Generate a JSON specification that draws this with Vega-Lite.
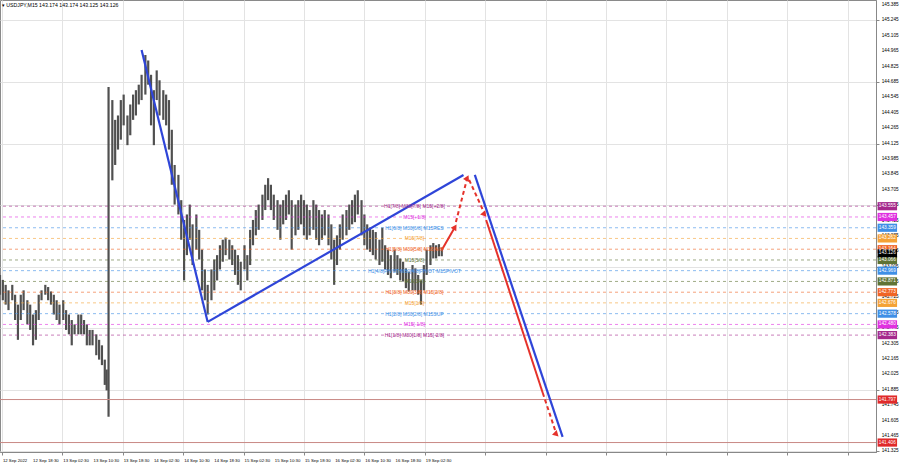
{
  "$schema": "https://vega.github.io/schema/vega-lite/v6.json",
  "width": 876,
  "height": 452,
  "autosize": {"type": "none"},
  "padding": {"left": 0, "top": 0, "right": 24, "bottom": 16},
  "background": "#ffffff",
  "title": {"text": "▾ USDJPY,M15  143.174 143.174 143.125 143.126", "anchor": "start", "orient": "top", "offset": -8, "dx": 3, "fontSize": 5.2, "fontWeight": "normal", "color": "#000000", "font": "Liberation Sans"},
  "config": {
    "view": {"stroke": "#8a8a8a", "strokeWidth": 1},
    "font": "Liberation Sans",
    "axis": {"labels": false, "gridColor": "#e3e3e3", "tickColor": "#888888", "domainColor": "#888888", "tickSize": 3, "title": null}
  },
  "datasets": {
    "xlab": [
      {"b": 0, "label": "12 Sep 2022"}, {"b": 32, "label": "12 Sep 18:30"}, {"b": 64, "label": "13 Sep 02:30"},
      {"b": 96, "label": "13 Sep 10:30"}, {"b": 128, "label": "13 Sep 18:30"}, {"b": 160, "label": "14 Sep 02:30"},
      {"b": 192, "label": "14 Sep 10:30"}, {"b": 224, "label": "14 Sep 18:30"}, {"b": 256, "label": "15 Sep 02:30"},
      {"b": 288, "label": "15 Sep 10:30"}, {"b": 320, "label": "15 Sep 18:30"}, {"b": 352, "label": "16 Sep 02:30"},
      {"b": 384, "label": "16 Sep 10:30"}, {"b": 416, "label": "16 Sep 18:30"}, {"b": 448, "label": "19 Sep 02:30"}
    ],
    "ylab": [
      {"p": 145.385}, {"p": 145.245}, {"p": 145.105}, {"p": 144.965}, {"p": 144.825}, {"p": 144.685},
      {"p": 144.545}, {"p": 144.405}, {"p": 144.265}, {"p": 144.125}, {"p": 143.985}, {"p": 143.845},
      {"p": 143.705}, {"p": 143.565}, {"p": 143.425}, {"p": 143.285}, {"p": 143.145}, {"p": 143.005},
      {"p": 142.865}, {"p": 142.725}, {"p": 142.585}, {"p": 142.445}, {"p": 142.305}, {"p": 142.165},
      {"p": 142.025}, {"p": 141.885}, {"p": 141.745}, {"p": 141.605}, {"p": 141.465}, {"p": 141.325}
    ],
    "bars": [
      {"b": -2, "hi": 142.93, "lo": 142.75}, {"b": 1, "hi": 142.885, "lo": 142.70}, {"b": 4, "hi": 142.84, "lo": 142.66},
      {"b": 7, "hi": 142.79, "lo": 142.61}, {"b": 11, "hi": 142.84, "lo": 142.70}, {"b": 14, "hi": 142.75, "lo": 142.52},
      {"b": 17, "hi": 142.66, "lo": 142.34}, {"b": 20, "hi": 142.75, "lo": 142.52}, {"b": 23, "hi": 142.79, "lo": 142.61},
      {"b": 27, "hi": 142.70, "lo": 142.48}, {"b": 30, "hi": 142.66, "lo": 142.43}, {"b": 33, "hi": 142.57, "lo": 142.29},
      {"b": 36, "hi": 142.61, "lo": 142.34}, {"b": 39, "hi": 142.75, "lo": 142.52}, {"b": 42, "hi": 142.79, "lo": 142.70},
      {"b": 46, "hi": 142.84, "lo": 142.75}, {"b": 49, "hi": 142.82, "lo": 142.70}, {"b": 52, "hi": 142.78, "lo": 142.66},
      {"b": 55, "hi": 142.75, "lo": 142.57}, {"b": 58, "hi": 142.70, "lo": 142.52}, {"b": 61, "hi": 142.66, "lo": 142.48},
      {"b": 65, "hi": 142.70, "lo": 142.52}, {"b": 68, "hi": 142.61, "lo": 142.43}, {"b": 71, "hi": 142.57, "lo": 142.39},
      {"b": 74, "hi": 142.52, "lo": 142.29}, {"b": 77, "hi": 142.48, "lo": 142.39}, {"b": 81, "hi": 142.57, "lo": 142.39},
      {"b": 84, "hi": 142.57, "lo": 142.39}, {"b": 87, "hi": 142.52, "lo": 142.39}, {"b": 90, "hi": 142.48, "lo": 142.29},
      {"b": 93, "hi": 142.43, "lo": 142.29}, {"b": 96, "hi": 142.43, "lo": 142.29}, {"b": 100, "hi": 142.39, "lo": 142.20},
      {"b": 103, "hi": 142.34, "lo": 142.16}, {"b": 106, "hi": 142.29, "lo": 142.11}, {"b": 109, "hi": 142.16, "lo": 141.93},
      {"b": 111, "hi": 142.07, "lo": 141.88}, {"b": 113, "hi": 144.64, "lo": 141.64}, {"b": 117, "hi": 144.52, "lo": 143.79},
      {"b": 120, "hi": 144.34, "lo": 143.93}, {"b": 123, "hi": 144.38, "lo": 144.07}, {"b": 126, "hi": 144.52, "lo": 144.16},
      {"b": 129, "hi": 144.57, "lo": 144.29}, {"b": 133, "hi": 144.38, "lo": 144.11}, {"b": 136, "hi": 144.48, "lo": 144.20},
      {"b": 139, "hi": 144.57, "lo": 144.34}, {"b": 142, "hi": 144.61, "lo": 144.38}, {"b": 145, "hi": 144.66, "lo": 144.48},
      {"b": 148, "hi": 144.75, "lo": 144.52}, {"b": 152, "hi": 144.93, "lo": 144.57}, {"b": 155, "hi": 144.88, "lo": 144.66},
      {"b": 158, "hi": 144.75, "lo": 144.29}, {"b": 161, "hi": 144.61, "lo": 144.11}, {"b": 164, "hi": 144.79, "lo": 144.52},
      {"b": 167, "hi": 144.70, "lo": 144.38}, {"b": 171, "hi": 144.61, "lo": 144.34}, {"b": 174, "hi": 144.57, "lo": 144.29},
      {"b": 177, "hi": 144.52, "lo": 144.07}, {"b": 180, "hi": 144.25, "lo": 143.75}, {"b": 183, "hi": 143.93, "lo": 143.57},
      {"b": 187, "hi": 143.84, "lo": 143.48}, {"b": 190, "hi": 143.61, "lo": 143.25}, {"b": 193, "hi": 143.43, "lo": 142.88},
      {"b": 196, "hi": 143.48, "lo": 143.11}, {"b": 199, "hi": 143.57, "lo": 143.25}, {"b": 202, "hi": 143.39, "lo": 143.02},
      {"b": 206, "hi": 143.48, "lo": 143.16}, {"b": 209, "hi": 143.34, "lo": 143.07}, {"b": 212, "hi": 143.16, "lo": 142.79},
      {"b": 215, "hi": 142.98, "lo": 142.70}, {"b": 218, "hi": 142.84, "lo": 142.57}, {"b": 222, "hi": 142.98, "lo": 142.70},
      {"b": 225, "hi": 143.07, "lo": 142.79}, {"b": 228, "hi": 143.11, "lo": 142.88}, {"b": 231, "hi": 143.20, "lo": 142.98},
      {"b": 234, "hi": 143.25, "lo": 143.05}, {"b": 237, "hi": 143.27, "lo": 143.11}, {"b": 241, "hi": 143.25, "lo": 143.07},
      {"b": 244, "hi": 143.20, "lo": 143.02}, {"b": 247, "hi": 143.16, "lo": 142.93}, {"b": 250, "hi": 143.11, "lo": 142.84},
      {"b": 253, "hi": 143.05, "lo": 142.79}, {"b": 257, "hi": 143.20, "lo": 142.98}, {"b": 260, "hi": 143.11, "lo": 142.88},
      {"b": 263, "hi": 143.34, "lo": 143.02}, {"b": 266, "hi": 143.43, "lo": 143.20}, {"b": 269, "hi": 143.52, "lo": 143.29},
      {"b": 272, "hi": 143.57, "lo": 143.34}, {"b": 276, "hi": 143.66, "lo": 143.43}, {"b": 279, "hi": 143.75, "lo": 143.52},
      {"b": 282, "hi": 143.81, "lo": 143.61}, {"b": 285, "hi": 143.75, "lo": 143.52}, {"b": 288, "hi": 143.66, "lo": 143.43},
      {"b": 292, "hi": 143.61, "lo": 143.34}, {"b": 295, "hi": 143.57, "lo": 143.25}, {"b": 298, "hi": 143.61, "lo": 143.39},
      {"b": 301, "hi": 143.66, "lo": 143.43}, {"b": 304, "hi": 143.70, "lo": 143.48}, {"b": 307, "hi": 143.61, "lo": 143.16},
      {"b": 311, "hi": 143.57, "lo": 143.29}, {"b": 314, "hi": 143.61, "lo": 143.34}, {"b": 317, "hi": 143.66, "lo": 143.39},
      {"b": 320, "hi": 143.61, "lo": 143.29}, {"b": 323, "hi": 143.57, "lo": 143.25}, {"b": 326, "hi": 143.52, "lo": 143.29},
      {"b": 330, "hi": 143.61, "lo": 143.34}, {"b": 333, "hi": 143.57, "lo": 143.25}, {"b": 336, "hi": 143.52, "lo": 143.20},
      {"b": 339, "hi": 143.48, "lo": 143.25}, {"b": 342, "hi": 143.52, "lo": 143.29}, {"b": 346, "hi": 143.48, "lo": 143.20},
      {"b": 349, "hi": 143.39, "lo": 143.07}, {"b": 352, "hi": 143.25, "lo": 142.84}, {"b": 355, "hi": 143.29, "lo": 143.02},
      {"b": 358, "hi": 143.39, "lo": 143.16}, {"b": 361, "hi": 143.48, "lo": 143.25}, {"b": 365, "hi": 143.52, "lo": 143.29},
      {"b": 368, "hi": 143.57, "lo": 143.34}, {"b": 371, "hi": 143.61, "lo": 143.39}, {"b": 374, "hi": 143.66, "lo": 143.41},
      {"b": 377, "hi": 143.70, "lo": 143.48}, {"b": 381, "hi": 143.61, "lo": 143.29}, {"b": 384, "hi": 143.48, "lo": 143.20},
      {"b": 387, "hi": 143.39, "lo": 143.16}, {"b": 390, "hi": 143.36, "lo": 143.14}, {"b": 393, "hi": 143.34, "lo": 143.11},
      {"b": 396, "hi": 143.32, "lo": 143.07}, {"b": 400, "hi": 143.25, "lo": 143.02}, {"b": 403, "hi": 143.36, "lo": 143.05},
      {"b": 406, "hi": 143.20, "lo": 142.98}, {"b": 409, "hi": 143.16, "lo": 142.93}, {"b": 412, "hi": 143.11, "lo": 142.90},
      {"b": 416, "hi": 143.16, "lo": 142.96}, {"b": 419, "hi": 143.11, "lo": 142.93}, {"b": 422, "hi": 143.08, "lo": 142.88},
      {"b": 425, "hi": 143.05, "lo": 142.87}, {"b": 428, "hi": 142.99, "lo": 142.81}, {"b": 431, "hi": 142.96, "lo": 142.78},
      {"b": 435, "hi": 143.02, "lo": 142.79}, {"b": 438, "hi": 142.99, "lo": 142.79}, {"b": 441, "hi": 142.93, "lo": 142.75},
      {"b": 444, "hi": 142.88, "lo": 142.66}, {"b": 447, "hi": 143.02, "lo": 142.79}, {"b": 450, "hi": 143.16, "lo": 142.93},
      {"b": 454, "hi": 143.20, "lo": 143.02}, {"b": 457, "hi": 143.22, "lo": 143.08}, {"b": 460, "hi": 143.20, "lo": 143.08},
      {"b": 463, "hi": 143.21, "lo": 143.10}, {"b": 466, "hi": 143.18, "lo": 143.10}
    ],
    "levels": [
      {"p": 143.555, "name": "H1[7/8] M30[7/8] M15[+2/8]", "lvl": "+2/8"},
      {"p": 143.457, "name": "M15[+1/8]", "lvl": "+1/8"},
      {"p": 143.359, "name": "H1[6/8] M30[6/8] M15RES", "lvl": "8/8"},
      {"p": 143.262, "name": "M15[7/8]", "lvl": "7/8"},
      {"p": 143.164, "name": "H1[5/8] M30[5/8] M15[6/8]", "lvl": "6/8"},
      {"p": 143.066, "name": "M15[5/8]", "lvl": "5/8"},
      {"p": 142.969, "name": "H1[4/8]PIVOT M30[4/8]PIVOT M15PIVOT", "lvl": "4/8"},
      {"p": 142.871, "name": "M15[3/8]", "lvl": "3/8"},
      {"p": 142.773, "name": "H1[3/8] M30[3/8] M15[2/8]", "lvl": "2/8"},
      {"p": 142.676, "name": "M15[1/8]", "lvl": "1/8"},
      {"p": 142.578, "name": "H1[2/8] M30[2/8] M15SUP", "lvl": "0/8"},
      {"p": 142.480, "name": "M15[-1/8]", "lvl": "-1/8"},
      {"p": 142.383, "name": "H1[1/8] M30[1/8] M15[-2/8]", "lvl": "-2/8"},
      {"p": 143.126, "name": "", "lvl": "bid"},
      {"p": 141.797, "name": "", "lvl": "stop"},
      {"p": 141.406, "name": "", "lvl": "stop"}
    ],
    "trend": [
      {"b": 148, "p": 144.975, "seg": "A"}, {"b": 218, "p": 142.503, "seg": "A"},
      {"b": 218, "p": 142.503, "seg": "B"}, {"b": 489, "p": 143.839, "seg": "B"},
      {"b": 501, "p": 143.839, "seg": "C"}, {"b": 594, "p": 141.457, "seg": "C"}
    ],
    "fsolid": [
      {"b": 466, "p": 143.157, "seg": "R1"}, {"b": 480, "p": 143.366, "seg": "R1"},
      {"b": 513, "p": 143.43, "seg": "R4"}, {"b": 573, "p": 141.857, "seg": "R4"}
    ],
    "fdash": [
      {"b": 481, "p": 143.412, "seg": "R2"}, {"b": 493, "p": 143.812, "seg": "R2"},
      {"b": 495, "p": 143.794, "seg": "R3"}, {"b": 511, "p": 143.494, "seg": "R3"},
      {"b": 573, "p": 141.857, "seg": "R5"}, {"b": 587, "p": 141.494, "seg": "R5"}
    ],
    "heads": [
      {"b": 480, "p": 143.366, "seg": "R1"},
      {"b": 493, "p": 143.812, "seg": "R2"},
      {"b": 511, "p": 143.494, "seg": "R3"},
      {"b": 587, "p": 141.494, "seg": "R5"}
    ]
  },
  "layer": [
    {
      "data": {"name": "bars"},
      "mark": {"type": "rule", "color": "#505050", "strokeWidth": 2.2},
      "encoding": {
        "x": {
          "field": "b", "type": "quantitative", "title": null,
          "scale": {"domain": [-2, 926], "nice": false, "zero": false},
          "axis": {
            "values": [0,16,32,48,64,80,96,112,128,144,160,176,192,208,224,240,256,272,288,304,320,336,352,368,384,400,416,432,448,464,480,496,512,528,544,560,576,592,608,624,640,656,672,688,704,720,736,752,768,784,800,816,832,848,864,880,896,912],
            "grid": true, "ticks": true, "labels": false
          }
        },
        "y": {
          "field": "hi", "type": "quantitative", "title": null,
          "scale": {"domain": [141.32, 145.43], "nice": false, "zero": false},
          "axis": {
            "orient": "right",
            "values": [145.385,145.245,145.105,144.965,144.825,144.685,144.545,144.405,144.265,144.125,143.985,143.845,143.705,143.565,143.425,143.285,143.145,143.005,142.865,142.725,142.585,142.445,142.305,142.165,142.025,141.885,141.745,141.605,141.465,141.325],
            "grid": true, "ticks": true, "labels": false
          }
        },
        "y2": {"field": "lo"}
      }
    },
    {
      "data": {"name": "xlab"},
      "mark": {"type": "text", "fontSize": 4.3, "align": "left", "baseline": "middle", "color": "#000000", "font": "Liberation Sans", "clip": false, "dx": 1},
      "encoding": {
        "x": {"field": "b", "type": "quantitative"},
        "y": {"datum": 141.238},
        "text": {"field": "label"}
      }
    },
    {
      "data": {"name": "ylab"},
      "mark": {"type": "text", "fontSize": 4.7, "align": "left", "baseline": "middle", "color": "#000000", "font": "Liberation Sans", "clip": false},
      "encoding": {
        "x": {"datum": 932},
        "y": {"field": "p", "type": "quantitative"},
        "text": {"field": "p", "format": ".3f"}
      }
    },
    {
      "data": {"name": "levels"},
      "transform": [{"filter": "datum.lvl != 'bid' && datum.lvl != 'stop'"}],
      "mark": {"type": "rule", "strokeWidth": 1, "strokeDash": [3, 3], "opacity": 0.6},
      "encoding": {
        "y": {"field": "p", "type": "quantitative"},
        "color": {"field": "lvl", "type": "nominal", "legend": null,
          "scale": {"domain": ["+2/8","+1/8","8/8","7/8","6/8","5/8","4/8","3/8","2/8","1/8","0/8","-1/8","-2/8","bid","stop"],
                    "range": ["#a52a8c","#e030e0","#3f8fe6","#f4a236","#f06424","#5f7335","#3f8fe6","#5f7335","#f06424","#f4a236","#3f8fe6","#e030e0","#a52a8c","#000000","#e02a2a"]}}
      }
    },
    {
      "data": {"name": "levels"},
      "transform": [{"filter": "datum.lvl == 'stop'"}],
      "mark": {"type": "rule", "strokeWidth": 1, "color": "#c98a86"},
      "encoding": {
        "y": {"field": "p", "type": "quantitative"}
      }
    },
    {
      "data": {"name": "trend"},
      "mark": {"type": "line", "color": "#2f45d8", "strokeWidth": 2.2},
      "encoding": {
        "x": {"field": "b", "type": "quantitative"},
        "y": {"field": "p", "type": "quantitative"},
        "detail": {"field": "seg"}
      }
    },
    {
      "data": {"name": "fsolid"},
      "mark": {"type": "line", "color": "#e5322b", "strokeWidth": 2},
      "encoding": {
        "x": {"field": "b", "type": "quantitative"},
        "y": {"field": "p", "type": "quantitative"},
        "detail": {"field": "seg"}
      }
    },
    {
      "data": {"name": "fdash"},
      "mark": {"type": "line", "color": "#e5322b", "strokeWidth": 2, "strokeDash": [4, 3]},
      "encoding": {
        "x": {"field": "b", "type": "quantitative"},
        "y": {"field": "p", "type": "quantitative"},
        "detail": {"field": "seg"}
      }
    },
    {
      "data": {"name": "heads"},
      "mark": {"type": "point", "shape": "triangle-up", "filled": true, "color": "#e5322b", "size": 45, "opacity": 1},
      "encoding": {
        "x": {"field": "b", "type": "quantitative"},
        "y": {"field": "p", "type": "quantitative"},
        "angle": {"field": "seg", "type": "nominal", "legend": null,
          "scale": {"domain": ["R1","R2","R3","R5"], "range": [32, 14, 156, 162]}}
      }
    },
    {
      "data": {"name": "levels"},
      "transform": [{"filter": "datum.name != ''"}],
      "mark": {"type": "text", "fontSize": 5, "align": "center", "baseline": "middle", "font": "Liberation Sans"},
      "encoding": {
        "x": {"datum": 437},
        "y": {"field": "p", "type": "quantitative"},
        "text": {"field": "name"},
        "color": {"field": "lvl", "type": "nominal", "legend": null}
      }
    },
    {
      "data": {"name": "levels"},
      "mark": {"type": "point", "shape": "M -1 -0.42 L 1 -0.42 L 1 0.42 L -1 0.42 Z", "filled": true, "size": 380, "opacity": 1, "clip": false},
      "encoding": {
        "x": {"datum": 938},
        "y": {"field": "p", "type": "quantitative"},
        "color": {"field": "lvl", "type": "nominal", "legend": null}
      }
    },
    {
      "data": {"name": "levels"},
      "mark": {"type": "text", "fontSize": 4.7, "align": "center", "baseline": "middle", "color": "#ffffff", "font": "Liberation Sans", "clip": false},
      "encoding": {
        "x": {"datum": 938},
        "y": {"field": "p", "type": "quantitative"},
        "text": {"field": "p", "format": ".3f"}
      }
    }
  ]
}
